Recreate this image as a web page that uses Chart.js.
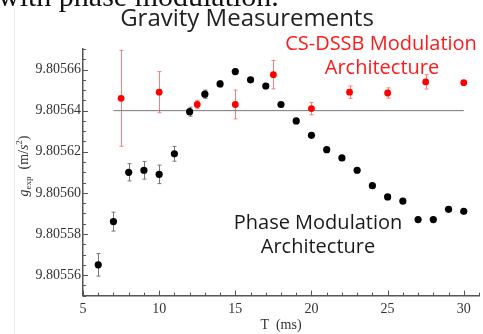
<!DOCTYPE html>
<html>
<head>
<meta charset="utf-8">
<script src="https://cdn.jsdelivr.net/npm/chart.js@4"></script>
<style>
  html, body { margin: 0; padding: 0; background: #ffffff; }
  #wrap { width: 483px; height: 334px; position: relative; }
</style>
</head>
<body>
<div id="wrap"><canvas id="grafico"></canvas></div>
<script>
// Phase modulation architecture (black)
const phaseT = [6, 7, 8, 9, 10, 11, 12, 13, 14, 15, 16, 17, 18, 19, 20, 21, 22, 23, 24, 25, 26, 27, 28, 29, 30];
const phaseG = [9.805565, 9.805586, 9.805610, 9.805611, 9.805609, 9.805619, 9.8056395, 9.805648, 9.805653, 9.805659,
                9.805655, 9.805652, 9.805643, 9.805635, 9.805628, 9.805621, 9.805617, 9.805611, 9.8056035, 9.805598,
                9.805596, 9.805587, 9.805587, 9.805592, 9.805591];
const phaseErr = [5.5e-6, 4.6e-6, 4.2e-6, 4.3e-6, 4.5e-6, 3.6e-6, 2.2e-6, 2.0e-6, 1.5e-6, 1.2e-6,
                  1.0e-6, 1.0e-6, 1.0e-6, 1.0e-6, 1.0e-6, 1.0e-6, 1.0e-6, 1.0e-6, 1.0e-6, 1.0e-6,
                  1.0e-6, 1.0e-6, 1.0e-6, 1.0e-6, 1.0e-6];

// CS-DSSB modulation architecture (red)
const csT = [7.5, 10, 12.5, 15, 17.5, 20, 22.5, 25, 27.5, 30];
const csG = [9.805646, 9.805649, 9.805643, 9.805643, 9.8056575, 9.805641, 9.805649, 9.8056486, 9.805654, 9.8056536];
const csErr = [2.33e-5, 1.0e-5, 2.0e-6, 7.0e-6, 6.9e-6, 3.0e-6, 3.0e-6, 2.5e-6, 3.5e-6, 1.0e-6];

// linha de referência
const refT = [7, 30];
const refG = 9.80564;

// eixos
const xTicks = [5, 10, 15, 20, 25, 30];
const yTicks = [9.80556, 9.80558, 9.80560, 9.80562, 9.80564, 9.80566];
const xMin = 5, xMax = 31;
const yMin = 9.80555, yMax = 9.80567;

const serif = '"Liberation Serif", "DejaVu Serif", serif';
const sans = '"Open Sans", "DejaVu Sans", sans-serif';

/**
 * Barras de erro, ticks internos e textos.
 */
const extras = {
    id: 'extras',
    beforeDraw(chart) {
        const ctx = chart.ctx;
        ctx.save();
        ctx.fillStyle = '#ffffff';
        ctx.fillRect(0, 0, chart.width, chart.height);
        // borda fraca da página
        ctx.strokeStyle = '#eeeaea';
        ctx.lineWidth = 1;
        ctx.beginPath();
        ctx.moveTo(14.5, 8);
        ctx.lineTo(14.5, chart.height);
        ctx.stroke();
        ctx.restore();
    },
    beforeDatasetsDraw(chart) {
        const ctx = chart.ctx;
        const x = chart.scales.x, y = chart.scales.y;
        const barras = (ts, gs, es, cor) => {
            ctx.strokeStyle = cor;
            ctx.lineWidth = 1;
            ts.forEach((t, i) => {
                const px = Math.round(x.getPixelForValue(t)) + 0.5;
                const y1 = y.getPixelForValue(gs[i] - es[i]);
                const y2 = y.getPixelForValue(gs[i] + es[i]);
                ctx.beginPath();
                ctx.moveTo(px, y1); ctx.lineTo(px, y2);
                ctx.moveTo(px - 2, y1); ctx.lineTo(px + 2, y1);
                ctx.moveTo(px - 2, y2); ctx.lineTo(px + 2, y2);
                ctx.stroke();
            });
        };
        ctx.save();
        barras(phaseT, phaseG, phaseErr, '#777777');
        barras(csT, csG, csErr, '#ff7a7a');
        ctx.restore();
    },
    afterDraw(chart) {
        const ctx = chart.ctx;
        const x = chart.scales.x, y = chart.scales.y;
        const area = chart.chartArea;
        ctx.save();

        // ticks internos
        ctx.strokeStyle = '#555555';
        ctx.lineWidth = 1;
        ctx.beginPath();
        for (let t = xMin; t <= xMax; t += 1) {
            const px = Math.round(x.getPixelForValue(t)) + 0.5;
            const len = xTicks.includes(t) ? 5 : 3;
            ctx.moveTo(px, area.bottom);
            ctx.lineTo(px, area.bottom - len);
        }
        for (let k = 0; k <= 24; k++) {
            const v = yMin + k * 0.000005;
            const py = Math.round(y.getPixelForValue(v)) + 0.5;
            const len = (k % 4 === 2) ? 5 : 3;
            ctx.moveTo(area.left, py);
            ctx.lineTo(area.left + len, py);
        }
        ctx.stroke();

        // texto cortado no topo
        ctx.fillStyle = '#111111';
        ctx.font = '30px ' + serif;
        ctx.textAlign = 'left';
        ctx.textBaseline = 'alphabetic';
        ctx.fillText('with phase modulation.', -2, 6);

        // título
        ctx.fillStyle = '#222222';
        ctx.font = '24px ' + sans;
        ctx.textAlign = 'center';
        ctx.fillText('Gravity Measurements', 247, 26);

        // anotações
        ctx.fillStyle = '#ff1a1a';
        ctx.font = '20px ' + sans;
        ctx.fillText('CS-DSSB Modulation', 381, 50);
        ctx.fillText('Architecture', 382, 74);
        ctx.fillStyle = '#1a1a1a';
        ctx.fillText('Phase Modulation', 318, 229);
        ctx.fillText('Architecture', 318, 253);

        // rótulo do eixo y
        ctx.translate(24, 166);
        ctx.rotate(-Math.PI / 2);
        ctx.fillStyle = '#333333';
        ctx.textAlign = 'left';
        const partes = [
            { t: 'g', f: 'italic 14px ' + serif, dy: 0 },
            { t: 'exp', f: '9px ' + serif, dy: 3 },
            { t: '  (m/', f: '14px ' + serif, dy: 0 },
            { t: 's', f: 'italic 14px ' + serif, dy: 0 },
            { t: '2', f: '9px ' + serif, dy: -6 },
            { t: ')', f: '14px ' + serif, dy: 0 }
        ];
        let total = 0;
        partes.forEach(p => { ctx.font = p.f; total += ctx.measureText(p.t).width; });
        let cx = -total / 2;
        partes.forEach(p => {
            ctx.font = p.f;
            ctx.fillText(p.t, cx, 4 + p.dy);
            cx += ctx.measureText(p.t).width;
        });
        ctx.restore();
    }
};

const chartConfig = {
    type: 'scatter',
    data: {
        datasets: [
            {
                label: 'ref',
                data: refT.map(t => ({ x: t, y: refG })),
                showLine: true,
                borderColor: '#777777',
                borderWidth: 1,
                pointRadius: 0,
                order: 3
            },
            {
                label: 'Phase Modulation Architecture',
                data: phaseT.map((t, i) => ({ x: t, y: phaseG[i] })),
                backgroundColor: '#000000',
                borderColor: '#000000',
                pointRadius: 3.6,
                borderWidth: 0,
                order: 2
            },
            {
                label: 'CS-DSSB Modulation Architecture',
                data: csT.map((t, i) => ({ x: t, y: csG[i] })),
                backgroundColor: '#ff0000',
                borderColor: '#ff0000',
                pointRadius: 3.4,
                borderWidth: 0,
                order: 1
            }
        ]
    },
    options: {
        responsive: true,
        maintainAspectRatio: false,
        animation: false,
        layout: { padding: { top: 49, right: 1.5, left: 0, bottom: 0 } },
        plugins: {
            legend: { display: false },
            tooltip: { enabled: false }
        },
        scales: {
            x: {
                type: 'linear',
                min: xMin,
                max: xMax,
                afterBuildTicks: s => { s.ticks = xTicks.map(v => ({ value: v })); },
                afterFit: s => { s.height = 38.4; },
                grid: { display: false, drawTicks: false },
                border: { display: true, color: '#555555', width: 1.5 },
                ticks: {
                    color: '#333333',
                    padding: 5,
                    font: { family: serif, size: 14 },
                    callback: v => String(v)
                },
                title: {
                    display: true,
                    text: 'T  (ms)',
                    color: '#333333',
                    font: { family: serif, size: 14 },
                    padding: { top: 0, bottom: 0 }
                }
            },
            y: {
                type: 'linear',
                min: yMin,
                max: yMax,
                afterBuildTicks: s => { s.ticks = yTicks.map(v => ({ value: v })); },
                afterFit: s => { s.width = 83; },
                grid: { display: false, drawTicks: false },
                border: { display: true, color: '#555555', width: 1.5 },
                ticks: {
                    color: '#333333',
                    padding: 2,
                    font: { family: serif, size: 14 },
                    callback: v => Number(v).toFixed(5)
                }
            }
        }
    },
    plugins: [extras]
};

new Chart(document.getElementById('grafico'), chartConfig);
</script>
</body>
</html>
